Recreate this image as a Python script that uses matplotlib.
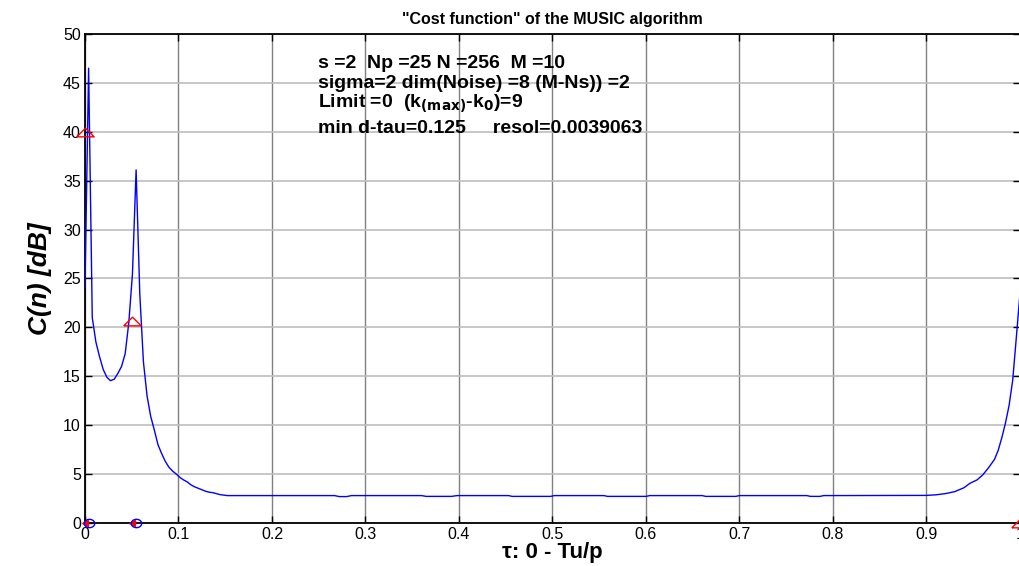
import numpy as np
import matplotlib
matplotlib.use('Agg')
import matplotlib.pyplot as plt

plt.rcParams['font.family'] = ['Liberation Sans', 'DejaVu Sans']

# MUSIC cost function C(n) [dB]
tau = [0.0, 0.0039, 0.0078, 0.0117, 0.0156, 0.0195, 0.0234, 0.0273, 0.0313,
       0.0352, 0.0391, 0.0430, 0.0469, 0.0508, 0.0547, 0.0586, 0.0625, 0.0664,
       0.0703, 0.0742, 0.0781, 0.0820, 0.0859, 0.0898, 0.0938, 0.0977, 0.1016,
       0.1055, 0.1094, 0.1133, 0.1172, 0.1211, 0.1250, 0.1289, 0.1328, 0.1367,
       0.1406, 0.1445, 0.1484, 0.1523,
       0.267, 0.272, 0.280, 0.285, 0.360, 0.365, 0.392, 0.398, 0.453, 0.457,
       0.498, 0.502, 0.555, 0.559, 0.600, 0.604, 0.660, 0.664, 0.696, 0.700,
       0.772, 0.776, 0.786, 0.790,
       0.900, 0.910, 0.920, 0.930, 0.940, 0.9465, 0.954, 0.960, 0.966, 0.9727,
       0.9766, 0.9805, 0.9844, 0.9883, 0.9922, 0.9961, 1.0]
cost = [24.0, 46.5, 21.0, 18.5, 17.0, 15.7, 14.9, 14.55, 14.7,
        15.3, 16.0, 17.3, 20.5, 25.5, 36.1, 23.5, 16.5, 13.0,
        10.9, 9.5, 8.0, 7.1, 6.3, 5.7, 5.3, 5.0, 4.65,
        4.4, 4.2, 3.9, 3.7, 3.55, 3.4, 3.25, 3.15, 3.1,
        3.0, 2.9, 2.85, 2.8,
        2.8, 2.7, 2.7, 2.8, 2.8, 2.72, 2.72, 2.8, 2.8, 2.72,
        2.72, 2.8, 2.8, 2.72, 2.72, 2.8, 2.8, 2.72, 2.72, 2.8,
        2.8, 2.72, 2.72, 2.8,
        2.82, 2.88, 3.0, 3.2, 3.6, 4.06, 4.4, 4.9, 5.6, 6.5,
        7.4, 8.7, 10.2, 12.0, 14.6, 19.0, 23.5]

# true delays / powers (red) and estimated delays (blue)
true_tau = [0.0, 0.05, 1.0]
true_val = [40.0, 20.7, 0.0]
est_tau = [0.0039, 0.0547]
base_tau = [0.0, 0.05]

info_lines = ['s =2  Np =25 N =256  M =10',
              'sigma=2 dim(Noise) =8 (M-Ns)) =2',
              r'Limit =0  (k$_{\mathbf{(max)}}$-k$_{\mathbf{0}}$)=9',
              'min d-tau=0.125     resol=0.0039063']
info_y = [46.5, 44.5, 42.5, 39.9]

fig = plt.figure(figsize=(10.2, 5.66), dpi=100)
ax = fig.add_axes([0.0833, 0.076, 0.9167, 0.864])

ax.plot(tau, cost, '-', color='#0000ff', lw=1.0, zorder=3)

tri = [(-1, -0.5), (1, -0.5), (0, 0.5), (-1, -0.5)]
t = np.linspace(0, 2 * np.pi, 41)
ell = list(zip(1.25 * np.cos(t), np.sin(t)))
ax.plot(true_tau, true_val, linestyle='none', marker=tri, ms=12.5,
        mfc='none', mec='#ff0000', mew=1.0, clip_on=False, zorder=4)
ax.plot(base_tau, [0, 0], linestyle='none', marker='<', ms=4,
        color='#ff0000', clip_on=False, zorder=4)
ax.plot(est_tau, [0, 0], linestyle='none', marker=ell, ms=7.5,
        mfc='none', mec='#0000ff', mew=1.0, clip_on=False, zorder=4)

ax.set_xlim(0, 1)
ax.set_ylim(0, 50)
ax.set_xticks(np.arange(0, 1.01, 0.1))
ax.set_xticklabels(['0', '0.1', '0.2', '0.3', '0.4', '0.5', '0.6', '0.7',
                    '0.8', '0.9', '1'])
ax.set_yticks(np.arange(0, 51, 5))
ax.tick_params(direction='in', top=True, right=True, length=5, width=1,
               labelsize=11.5, pad=3)
for s in ax.spines.values():
    s.set_linewidth(1.3)
ax.xaxis.grid(True, color='#808080', lw=1.0)
ax.yaxis.grid(True, color='#bdbdbd', lw=1.2)
ax.set_axisbelow(True)

for txt, yy in zip(info_lines, info_y):
    ax.text(0.249, yy, txt, fontsize=14, fontweight='bold', va='baseline',
            ha='left')

ax.set_title('"Cost function" of the MUSIC algorithm', fontsize=11.5,
             fontweight='bold', pad=7)
ax.set_xlabel('\u03c4: 0 - Tu/p', fontsize=16, fontweight='bold', labelpad=0)
ax.set_ylabel('C(n) [dB]', fontsize=19, fontweight='bold', style='italic',
              labelpad=8)

plt.savefig('out.png', dpi=100)
